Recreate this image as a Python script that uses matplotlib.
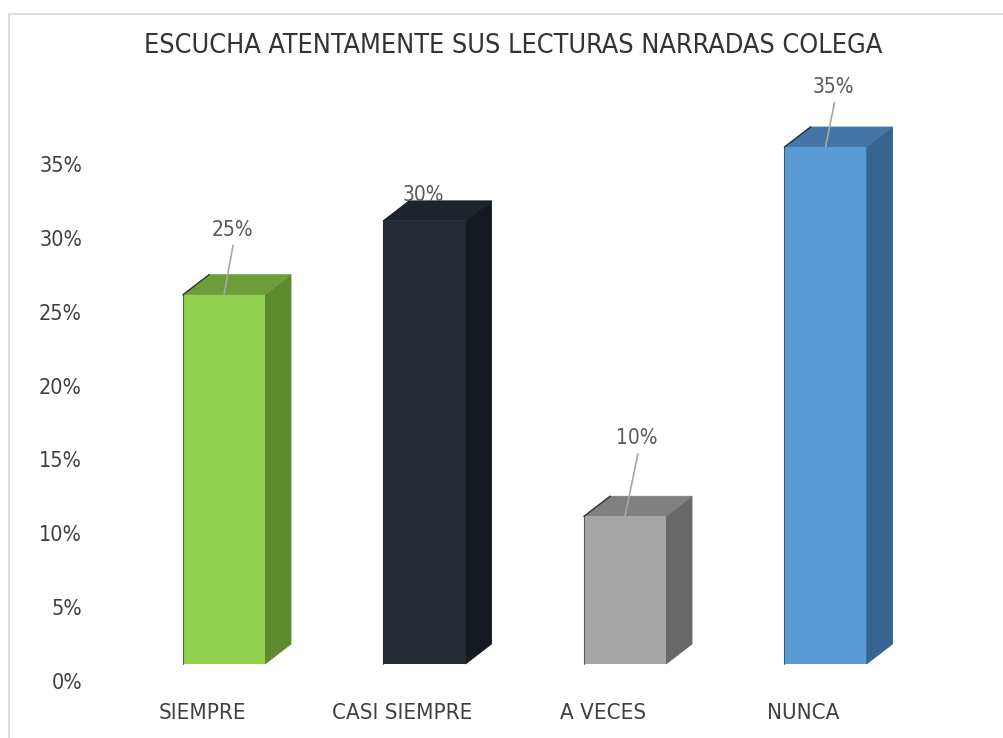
import matplotlib.pyplot as plt
from matplotlib import font_manager
from matplotlib.patches import Polygon, Rectangle
from matplotlib.ticker import PercentFormatter
import numpy as np

categories = ['SIEMPRE', 'CASI SIEMPRE', 'A VECES', 'NUNCA']
values = [25, 30, 10, 35]
title = 'ESCUCHA ATENTAMENTE SUS LECTURAS NARRADAS COLEGA'

front_colors = ['#92D050', '#232A33', '#A5A5A5', '#5B9BD5']
side_colors = ['#5E8A2E', '#151A20', '#686868', '#386490']
top_colors = ['#6D9E3A', '#1E242C', '#808080', '#4375A6']

# label offsets from bar top (pixels) and whether a leader line is drawn
label_offsets = [(8, 65), (-1, 26), (12, 78), (8, 60)]
leaders = [True, False, True, True]

# a narrow face is closest to the original; see what is installed
fonts = font_manager.fontManager.ttflist
narrow = [f for f in fonts if 'Narrow' in f.name or 'Condensed' in f.name
          or f.stretch in ('condensed', 'semi-condensed', 525, 500)]
if narrow:
    pick = narrow[0]
    plt.rcParams['font.family'] = [pick.name, 'DejaVu Sans']
    plt.rcParams['font.stretch'] = pick.stretch
    plt.rcParams['font.weight'] = 'light'
    sizes = dict(title=19.4, tick=15.5, xcat=16, label=15)
else:
    plt.rcParams['font.family'] = ['DejaVu Sans']
    sizes = dict(title=17.5, tick=14.5, xcat=14.5, label=14.5)

fig = plt.figure(figsize=(10.04, 7.38), dpi=100)
W, H = 1004, 738
px_per_pct = (681 - 164) / 35.0
ax = fig.add_axes([100 / W, 57 / H, 900 / W, 40 * px_per_pct / H])
unit = 200.5  # px per category
ax.set_xlim(-124 / unit, 776 / unit)
ax.set_ylim(0, 40)

# chart border
fig.patches.append(Rectangle((9 / W, -0.1), 1.2, (H - 14) / H + 0.1,
                             transform=fig.transFigure, fill=False,
                             edgecolor='#D9D9D9', lw=1.2))

w = 82 / unit
dx = 26 / unit
dy = 20 / px_per_pct
base = 17 / px_per_pct

for i, v in enumerate(values):
    x0, x1 = i - w / 2, i + w / 2
    top = v + base
    ax.add_patch(Polygon([(x1, base), (x1 + dx, base + dy), (x1 + dx, top + dy), (x1, top)],
                         closed=True, facecolor=side_colors[i], edgecolor=side_colors[i], lw=0.6))
    ax.add_patch(Polygon([(x0, top), (x0 + dx, top + dy), (x1 + dx, top + dy), (x1, top)],
                         closed=True, facecolor=top_colors[i], edgecolor=top_colors[i], lw=0.6))
    ax.add_patch(Rectangle((x0, base), w, v, facecolor=front_colors[i], edgecolor='none'))
    ax.plot([x0, x0], [base, top], color='#2a2a2a', lw=0.8, alpha=0.6)
    ax.plot([x0, x0 + dx], [top, top + dy], color='#1a1a1a', lw=1.0, alpha=0.8)

    ox, oy = label_offsets[i]
    arrow = dict(arrowstyle='-', color='#A6A6A6', lw=1.2, relpos=(0.55, 0.0),
                 shrinkA=2, shrinkB=0) if leaders[i] else None
    ax.annotate(f'{v}%', xy=(i, top), xytext=(ox * 0.72, oy * 0.72),
                textcoords='offset points', ha='center', va='center',
                fontsize=sizes['label'], color='#595959', arrowprops=arrow, zorder=5)

ax.set_yticks(np.arange(0, 36, 5))
ax.yaxis.set_major_formatter(PercentFormatter(decimals=0))
ax.set_xticks(np.arange(len(categories)) - 0.11)
ax.set_xticklabels(categories)
ax.tick_params(axis='both', length=0, labelcolor='#404040')
ax.tick_params(axis='y', pad=13, labelsize=sizes['tick'])
ax.tick_params(axis='x', pad=16, labelsize=sizes['xcat'])
for s in ax.spines.values():
    s.set_visible(False)
ax.patch.set_alpha(0)

fig.text(513 / W, 1 - 53 / H, title, ha='center', va='baseline',
         fontsize=sizes['title'], color='#333333')

fig.savefig('out.png', dpi=100)
